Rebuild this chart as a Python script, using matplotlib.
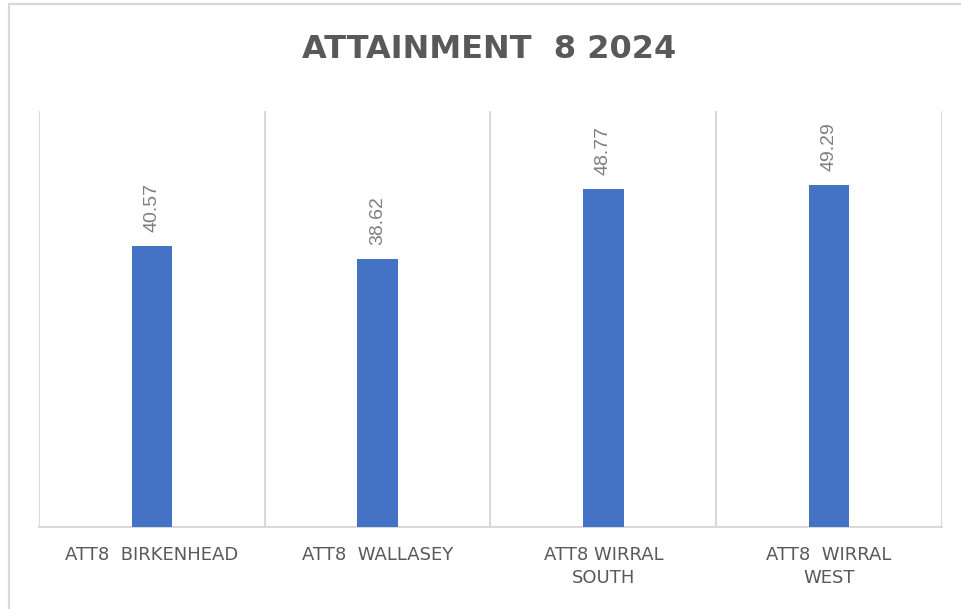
import matplotlib
matplotlib.use("Agg")
import matplotlib.pyplot as plt
from matplotlib.patches import Rectangle
import numpy as np

categories = ["ATT8  BIRKENHEAD", "ATT8  WALLASEY", "ATT8 WIRRAL\nSOUTH", "ATT8  WIRRAL\nWEST"]
values = [40.57, 38.62, 48.77, 49.29]
value_labels = ["40.57", "38.62", "48.77", "49.29"]
title = "ATTAINMENT  8 2024"

W, H = 962, 609
fig = plt.figure(figsize=(W / 100, H / 100), dpi=100)
fig.patch.set_facecolor("white")

# outer chart border
border = Rectangle((9 / W, -0.05), 1.1, 0.05 + (H - 4) / H, transform=fig.transFigure,
                   fill=False, edgecolor="#d9d9d9", linewidth=1.6, zorder=0)
fig.patches.append(border)

ax = fig.add_axes([39 / W, 1 - 527 / H, (942 - 39) / W, (527 - 111) / H])
x = np.arange(len(categories))
ax.bar(x, values, width=0.18, color="#4472c4", zorder=3)

ax.set_xlim(-0.5, len(categories) - 0.5)
ax.set_ylim(0, 60)

for xi, v, lab in zip(x, values, value_labels):
    ax.annotate(lab, (xi, v), xytext=(0, 14), textcoords="offset pixels",
                rotation=90, ha="center", va="bottom", fontsize=14, color="#7f7f7f",
                family="Liberation Sans")

ax.set_xticks(x)
ax.set_xticklabels(categories, fontsize=13, color="#595959", family="DejaVu Sans",
                   linespacing=1.3)
ax.tick_params(axis="x", length=0, pad=14)
ax.set_xticks(np.arange(-0.5, len(categories)), minor=True)
ax.tick_params(axis="x", which="minor", length=0)
ax.grid(axis="x", which="minor", color="#d9d9d9", linewidth=1.5, zorder=0)
ax.grid(axis="x", which="major", visible=False)
ax.set_yticks([])

for s in ["top", "left", "right"]:
    ax.spines[s].set_visible(False)
ax.spines["bottom"].set_color("#d9d9d9")
ax.spines["bottom"].set_linewidth(1.5)

fig.text(489 / W, 1 - 50 / H, title, ha="center", va="center", fontsize=23,
         fontweight="bold", color="#595959", family="DejaVu Sans")

fig.savefig("out.png", dpi=100, facecolor="white")
